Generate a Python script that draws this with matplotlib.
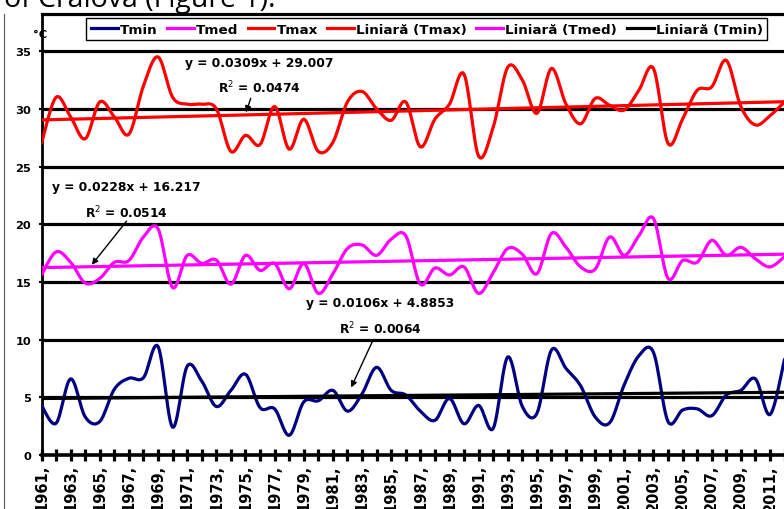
import numpy as np
import matplotlib
matplotlib.use("Agg")
import matplotlib.pyplot as plt
from matplotlib.lines import Line2D

# ---------------- data ----------------
years = list(range(1961, 2013))
tmax = [27.0, 31.0, 29.3, 27.4, 30.6, 29.3, 27.8, 32.0, 34.5, 31.0,
        30.4, 30.4, 30.0, 26.3, 27.7, 26.9, 30.2, 26.5, 29.1, 26.3,
        27.1, 30.6, 31.5, 30.0, 29.0, 30.6, 26.7, 29.1, 30.4, 33.0,
        25.9, 28.4, 33.6, 32.5, 29.6, 33.5, 30.4, 28.7, 30.9, 30.3,
        29.9, 31.6, 33.5, 27.0, 29.1, 31.6, 31.9, 34.2, 30.2, 28.6,
        29.4, 30.6]
tmed = [15.6, 17.6, 16.7, 14.9, 15.3, 16.7, 16.85, 18.9, 19.6, 14.5,
        17.3, 16.6, 16.9, 14.8, 17.3, 16.0, 16.6, 14.4, 16.6, 14.0,
        15.7, 17.9, 18.2, 17.3, 18.7, 19.0, 14.8, 16.2, 15.6, 16.3,
        14.0, 15.8, 17.9, 17.4, 15.7, 19.2, 18.0, 16.3, 16.1, 18.9,
        17.3, 19.0, 20.5, 15.3, 16.85, 16.7, 18.6, 17.3, 18.0, 17.0,
        16.3, 17.2]
tmin = [4.3, 2.75, 6.6, 3.3, 2.9, 5.7, 6.65, 6.7, 9.4, 2.4,
        7.7, 6.4, 4.2, 5.6, 7.0, 4.1, 4.0, 1.7, 4.6, 4.7,
        5.6, 3.8, 5.3, 7.6, 5.6, 5.2, 3.8, 3.0, 4.9, 2.7,
        4.3, 2.3, 8.5, 4.2, 3.6, 9.1, 7.5, 6.0, 3.3, 2.8,
        6.1, 8.6, 8.9, 2.9, 3.9, 4.0, 3.4, 5.2, 5.6, 6.6,
        3.5, 8.3]

# trend equations as printed on the chart (x = 1..n)
trend_max = (0.0309, 29.007, 0.0474)
trend_med = (0.0228, 16.217, 0.0514)
trend_min = (0.0106, 4.8853, 0.0064)

series_names = ["Tmin", "Tmed", "Tmax"]
trend_names = ["Liniară (Tmax)", "Liniară (Tmed)", "Liniară (Tmin)"]
tick_labels = [f"{y}," if (y - 1961) % 2 == 0 else "" for y in years]
y_ticks = [0, 5, 10, 15, 20, 25, 30, 35]
page_text = "of Craiova (Figure 1)."

# ---------------- style ----------------
C_MIN = "#000080"
C_MED = "#FF00FF"
C_MAX = "#FF0000"

W, H = 784, 510
fig = plt.figure(figsize=(W / 100, H / 100), dpi=100)
fig.patch.set_facecolor("white")

x0_px, x_step = 41.5, 14.57
y0_px, y_step = 456.0, 11.54
top_px = 15.0
n = len(years)
x_right = (W + 0.6 - x0_px) / x_step
ax = fig.add_axes([x0_px / W, (H - y0_px) / H,
                   (W + 0.6 - x0_px) / W, (y0_px - top_px) / H])
ax.set_xlim(0, x_right)
ax.set_ylim(0, (y0_px - top_px) / y_step)


def smooth(xv, yv, k=12):
    xv = np.asarray(xv, float)
    yv = np.asarray(yv, float)
    px, py = [], []
    m = len(xv)
    for i in range(m - 1):
        p0 = np.array([xv[max(i - 1, 0)], yv[max(i - 1, 0)]])
        p1 = np.array([xv[i], yv[i]])
        p2 = np.array([xv[i + 1], yv[i + 1]])
        p3 = np.array([xv[min(i + 2, m - 1)], yv[min(i + 2, m - 1)]])
        c1 = p1 + (p2 - p0) / 6.0
        c2 = p2 - (p3 - p1) / 6.0
        t = np.linspace(0, 1, k, endpoint=(i == m - 2))
        b = ((1 - t) ** 3)[:, None] * p1 + (3 * (1 - t) ** 2 * t)[:, None] * c1 \
            + (3 * (1 - t) * t ** 2)[:, None] * c2 + (t ** 3)[:, None] * p2
        px.extend(b[:, 0])
        py.extend(b[:, 1])
    return np.array(px), np.array(py)


idx = np.arange(n)

# gridlines
for v in y_ticks[1:]:
    ax.axhline(v, color="black", lw=2.3, zorder=1)

# series
for vals, col in [(tmax, C_MAX), (tmed, C_MED), (tmin, C_MIN)]:
    sx, sy = smooth(idx, vals)
    ax.plot(sx, sy, color=col, lw=2.3, zorder=3, solid_capstyle="round")

# trend lines
xt = np.array([0, n - 1])
for (a, b, r2), col in [(trend_max, C_MAX), (trend_med, C_MED), (trend_min, "black")]:
    ax.plot(xt, a * (xt + 1) + b, color=col, lw=2.3, zorder=4)

# axes styling
ax.spines["right"].set_visible(False)
ax.spines["top"].set_linewidth(2.3)
ax.spines["left"].set_linewidth(2.0)
ax.spines["bottom"].set_linewidth(2.6)
ax.set_xticks(idx)
ax.set_xticklabels(tick_labels, rotation=90, fontsize=10.5, fontweight="bold",
                   family="DejaVu Sans")
ax.set_yticks(y_ticks)
ax.set_yticklabels([str(v) for v in y_ticks], fontsize=8.2, fontweight="bold")
ax.tick_params(axis="x", direction="inout", length=9, width=2.3, pad=2)
ax.tick_params(axis="y", direction="inout", length=5, width=1.5, pad=5)
for lab in ax.get_xticklabels():
    lab.set_va("top")

# degree label
fig.text(40 / W, 1 - 35 / H, "°C", fontsize=8.2, fontweight="bold",
         ha="center", va="center")

# partial page text at top (cut by the crop, as in the reference)
fig.text(4 / W, 1 - 7.3 / H, page_text, fontsize=20.5,
         family="Open Sans", ha="left", va="baseline")

# equation labels
def eq_text(cx, cy, a, b, r2, adx, ady, hx, hy):
    fy = lambda p: H - p
    fig.text(cx / W, fy(cy) / H, f"y = {a}x + {b}", fontsize=8.8,
             fontweight="bold", ha="center", va="center")
    fig.text(cx / W, fy(cy + 25) / H, f"R$^2$ = {r2}", fontsize=8.8,
             fontweight="bold", ha="center", va="center")
    ax.annotate("", xy=(hx, fy(hy)), xycoords="figure pixels",
                xytext=(adx, fy(ady)), textcoords="figure pixels",
                arrowprops=dict(arrowstyle="-|>", color="black", lw=1.0,
                                mutation_scale=9), zorder=6)


eq_text(259, 63, *trend_max, 251.7, 96.7, 245, 116)
eq_text(126.5, 188, *trend_med, 128.3, 220, 90, 268)
eq_text(380, 304, *trend_min, 374.3, 338.3, 350, 391)

# legend
handles = [Line2D([], [], color=C_MIN, lw=2.3),
           Line2D([], [], color=C_MED, lw=2.3),
           Line2D([], [], color=C_MAX, lw=2.3),
           Line2D([], [], color=C_MAX, lw=2.3),
           Line2D([], [], color=C_MED, lw=2.3),
           Line2D([], [], color="black", lw=2.3)]
leg = fig.legend(handles, series_names + trend_names, ncol=6,
                 loc="upper left", bbox_to_anchor=(86 / W, 1 - 19 / H),
                 prop=dict(weight="bold", size=9.7), frameon=True,
                 fancybox=False, edgecolor="black", framealpha=1,
                 handlelength=2.0, handletextpad=0.15, columnspacing=0.7,
                 borderpad=0.35, borderaxespad=0)
leg.get_frame().set_linewidth(1.0)

# chart outer border on left
fig.add_artist(Line2D([4 / W, 4 / W], [0, 1 - 15 / H], transform=fig.transFigure,
                      color="#555555", lw=0.8))

fig.savefig("out.png", dpi=100)
